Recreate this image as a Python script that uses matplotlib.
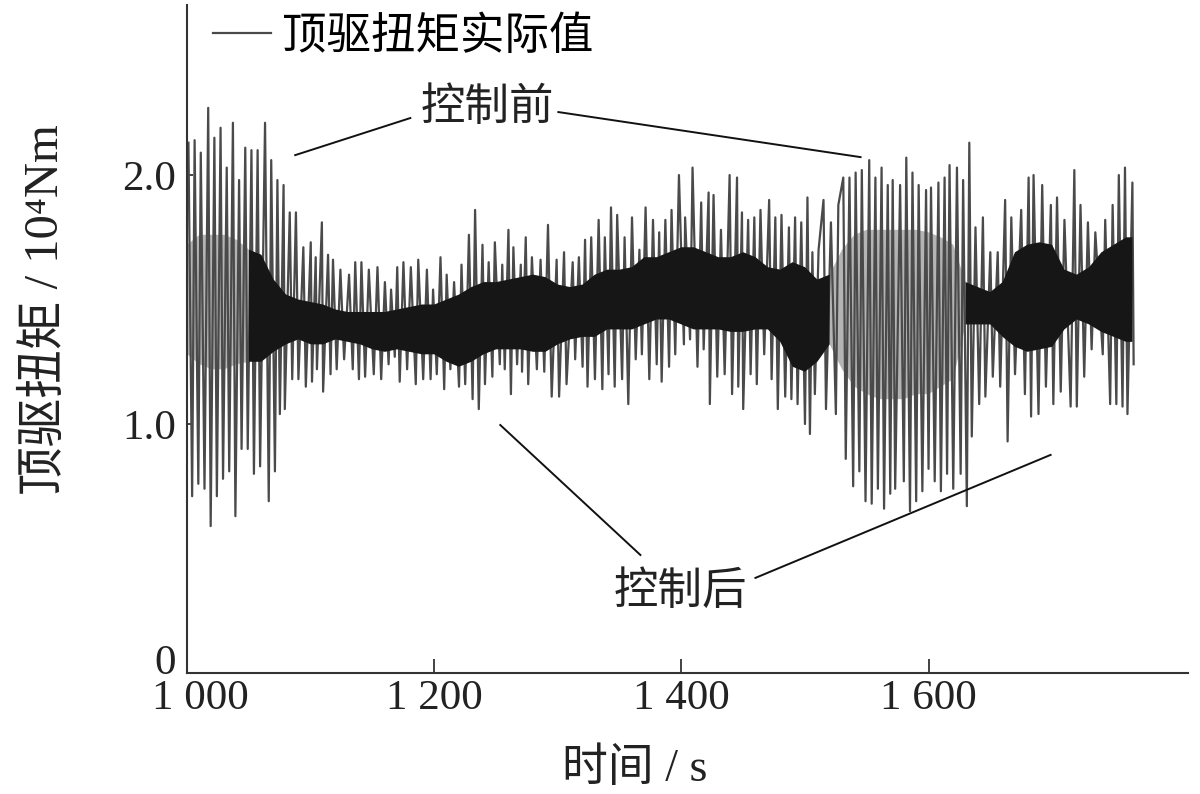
import numpy as np
import matplotlib
matplotlib.use('Agg')
import matplotlib.pyplot as plt
import matplotlib.transforms as mtrans

plt.rcParams['font.family'] = ['Liberation Serif', 'Noto Sans CJK SC', 'DejaVu Serif']

# 尖峰（峰值 / 谷值）
peak_t = [1001, 1006, 1011, 1017, 1022, 1027, 1032, 1037, 1042, 1047,
          1052, 1057, 1063, 1068, 1073, 1078, 1083, 1088, 1094, 1100,
          1104, 1109, 1114, 1118, 1124, 1131, 1136, 1141, 1147, 1154,
          1160, 1165, 1170, 1175, 1181, 1187, 1194, 1199, 1205, 1210,
          1216, 1222, 1228, 1233, 1239, 1244, 1249, 1255, 1260, 1264,
          1270, 1274, 1279, 1286, 1292, 1299, 1305,
          1312, 1317, 1322, 1327, 1333, 1338, 1343, 1348, 1354, 1360,
          1366, 1371, 1377, 1382, 1387, 1392, 1398, 1403, 1409, 1416,
          1422, 1426, 1432, 1439, 1445, 1449, 1454, 1459, 1464,
          1471, 1476, 1481, 1487, 1492, 1497, 1502, 1506, 1511, 1515,
          1521, 1527, 1531, 1536, 1541, 1546, 1552, 1557, 1562, 1567,
          1571, 1577, 1582, 1587, 1592, 1598, 1602, 1608, 1613, 1617,
          1623, 1628, 1633, 1638, 1644, 1650, 1656, 1662, 1667, 1675,
          1681, 1685, 1692, 1699, 1704, 1710, 1718, 1723, 1729, 1735,
          1743, 1749, 1754, 1759, 1765]
peak_v = [2.13, 2.14, 2.09, 2.27, 2.15, 2.19, 2.03, 2.21, 1.98, 2.11,
          2.10, 2.10, 2.21, 2.06, 1.98, 1.96, 1.85, 1.85, 1.71, 1.73,
          1.67, 1.81, 1.68, 1.66, 1.62, 1.60, 1.65, 1.65, 1.62, 1.63,
          1.57, 1.54, 1.63, 1.65, 1.63, 1.66, 1.62, 1.54, 1.67, 1.60,
          1.57, 1.64, 1.76, 1.86, 1.72, 1.65, 1.73, 1.64, 1.78, 1.71,
          1.64, 1.75, 1.67, 1.66, 1.80, 1.66, 1.69,
          1.65, 1.67, 1.74, 1.75, 1.82, 1.75, 1.87, 1.84, 1.75, 1.83,
          1.70, 1.87, 1.82, 1.77, 1.82, 1.86, 2.00, 1.83, 2.03, 1.89,
          1.93, 1.92, 1.78, 2.00, 1.99, 1.85, 1.82, 1.83, 1.86,
          1.90, 1.83, 1.84, 1.79, 1.83, 1.81, 1.91, 1.69, 1.70, 1.90,
          1.81, 1.88, 1.99, 1.99, 2.01, 2.02, 2.06, 1.99, 2.03, 1.96,
          1.98, 1.96, 2.07, 2.01, 1.96, 1.94, 1.95, 1.97, 1.99, 2.04,
          2.03, 1.98, 2.13, 1.79, 1.83, 1.69, 1.69, 1.90, 1.83, 1.86,
          1.99, 2.00, 1.96, 1.88, 1.91, 1.82, 2.02, 1.88, 1.81, 1.77,
          1.82, 1.88, 2.00, 2.03, 1.97]

trough_t = [1004, 1009, 1014, 1019, 1024, 1029, 1034, 1039, 1044, 1049,
            1054, 1059, 1066, 1071, 1075, 1079, 1085, 1090, 1096, 1101,
            1105, 1110, 1116, 1121, 1127, 1134, 1139, 1144, 1151, 1157,
            1163, 1168, 1172, 1178, 1185, 1191, 1197, 1202, 1208, 1213,
            1220, 1225, 1231, 1236, 1241, 1247, 1253, 1257, 1262, 1267,
            1271, 1276, 1283, 1289, 1295, 1301, 1307,
            1314, 1320, 1324, 1330, 1336, 1341, 1346, 1352, 1357, 1363,
            1368, 1374, 1380, 1384, 1390, 1395, 1402, 1407, 1413, 1418,
            1423, 1429, 1435, 1441, 1446, 1450, 1456, 1461,
            1467, 1473, 1478, 1484, 1489, 1494, 1500, 1504, 1508, 1517,
            1525, 1533, 1539, 1544, 1549, 1554, 1559, 1564, 1569, 1573,
            1580, 1585, 1590, 1595, 1600, 1605, 1610, 1615,
            1620, 1626, 1631, 1635, 1641, 1646, 1652, 1658, 1664, 1670,
            1678, 1683, 1689, 1695, 1701, 1707, 1715, 1720, 1726, 1732,
            1741, 1747, 1752, 1757, 1761, 1766]
trough_v = [0.71, 0.76, 0.74, 0.59, 0.71, 0.78, 0.81, 0.63, 0.90, 0.90,
            0.80, 0.83, 0.69, 0.81, 1.04, 1.06, 1.18, 1.18, 1.15, 1.17,
            1.22, 1.13, 1.20, 1.22, 1.26, 1.22, 1.18, 1.19, 1.20, 1.18,
            1.24, 1.27, 1.17, 1.22, 1.16, 1.18, 1.18, 1.20, 1.14, 1.22,
            1.15, 1.16, 1.10, 1.06, 1.16, 1.19, 1.24, 1.22, 1.12, 1.24,
            1.21, 1.16, 1.22, 1.21, 1.11, 1.11, 1.16,
            1.26, 1.23, 1.15, 1.18, 1.14, 1.20, 1.15, 1.18, 1.08, 1.26,
            1.28, 1.18, 1.24, 1.17, 1.23, 1.28, 1.32, 1.34, 1.23, 1.30,
            1.08, 1.19, 1.20, 1.12, 1.15, 1.06, 1.20, 1.16,
            1.28, 1.18, 1.06, 1.11, 1.10, 1.08, 1.00, 0.96, 1.12, 1.06,
            1.04, 0.86, 0.75, 0.81, 0.69, 0.68, 0.74, 0.66, 0.72, 0.74,
            0.77, 0.65, 0.69, 0.73, 0.82, 0.77, 0.73, 0.80,
            0.74, 0.80, 0.67, 0.95, 1.08, 1.11, 1.19, 1.15, 0.93, 1.20,
            1.12, 1.03, 1.04, 1.15, 1.08, 1.13, 1.07, 1.07, 1.19, 1.30,
            1.28, 1.08, 1.08, 1.07, 1.04, 1.24]

# 高频密集部分的包络（黑色带 / 灰色带）
nan = np.nan
band_t = [1000, 1010, 1020, 1030, 1040, 1050, 1060, 1070, 1080, 1090,
          1100, 1110, 1120, 1130, 1140, 1150, 1160, 1170, 1180, 1190,
          1200, 1210, 1220, 1230, 1240, 1250, 1260, 1270, 1280, 1290,
          1300, 1310, 1320, 1330, 1340, 1350, 1360, 1370, 1380, 1390,
          1400, 1410, 1420, 1430, 1440, 1450, 1460, 1470, 1480, 1490,
          1500, 1510, 1520, 1530, 1540, 1550, 1560, 1570, 1580, 1590,
          1600, 1610, 1620, 1630, 1640, 1650, 1660, 1670, 1680, 1690,
          1700, 1710, 1720, 1730, 1740, 1750, 1760, 1765]
dark_hi = [nan, nan, nan, nan, nan, 1.70, 1.68, 1.58, 1.52, 1.50,
           1.49, 1.48, 1.46, 1.45, 1.45, 1.45, 1.45, 1.46, 1.47, 1.48,
           1.48, 1.50, 1.52, 1.55, 1.57, 1.57, 1.58, 1.59, 1.60, 1.59,
           1.56, 1.55, 1.56, 1.60, 1.62, 1.62, 1.63, 1.67, 1.67, 1.69,
           1.71, 1.71, 1.69, 1.67, 1.67, 1.69, 1.67, 1.63, 1.62, 1.65,
           1.63, 1.58, 1.60, nan, nan, nan, nan, nan, nan, nan,
           nan, nan, nan, 1.57, 1.55, 1.53, 1.57, 1.69, 1.72, 1.73,
           1.72, 1.62, 1.60, 1.63, 1.69, 1.72, 1.75, 1.75]
dark_lo = [nan, nan, nan, nan, nan, 1.25, 1.25, 1.29, 1.32, 1.34,
           1.32, 1.32, 1.34, 1.33, 1.32, 1.30, 1.29, 1.30, 1.29, 1.28,
           1.28, 1.25, 1.23, 1.25, 1.28, 1.30, 1.30, 1.30, 1.29, 1.29,
           1.32, 1.34, 1.35, 1.35, 1.38, 1.38, 1.38, 1.40, 1.42, 1.42,
           1.40, 1.38, 1.38, 1.38, 1.37, 1.37, 1.38, 1.38, 1.33, 1.23,
           1.21, 1.25, 1.32, nan, nan, nan, nan, nan, nan, nan,
           nan, nan, nan, 1.40, 1.40, 1.40, 1.35, 1.31, 1.29, 1.30,
           1.31, 1.38, 1.42, 1.40, 1.37, 1.35, 1.33, 1.33]
grey_hi = [1.72, 1.76, 1.76, 1.76, 1.74, 1.70, nan, nan, nan, nan,
           nan, nan, nan, nan, nan, nan, nan, nan, nan, nan,
           nan, nan, nan, nan, nan, nan, nan, nan, nan, nan,
           nan, nan, nan, nan, nan, nan, nan, nan, nan, nan,
           nan, nan, nan, nan, nan, nan, nan, nan, nan, nan,
           nan, nan, 1.60, 1.70, 1.76, 1.78, 1.78, 1.78, 1.78, 1.78,
           1.77, 1.75, 1.72, 1.57, nan, nan, nan, nan, nan, nan,
           nan, nan, nan, nan, nan, nan, nan, nan]
grey_lo = [1.28, 1.24, 1.22, 1.22, 1.24, 1.25, nan, nan, nan, nan,
           nan, nan, nan, nan, nan, nan, nan, nan, nan, nan,
           nan, nan, nan, nan, nan, nan, nan, nan, nan, nan,
           nan, nan, nan, nan, nan, nan, nan, nan, nan, nan,
           nan, nan, nan, nan, nan, nan, nan, nan, nan, nan,
           nan, nan, 1.32, 1.22, 1.15, 1.12, 1.10, 1.10, 1.10, 1.12,
           1.12, 1.15, 1.18, 1.40, nan, nan, nan, nan, nan, nan,
           nan, nan, nan, nan, nan, nan, nan, nan]

x_ticks = [1000, 1200, 1400, 1600]
x_tick_labels = ['1 000', '1 200', '1 400', '1 600']
y_ticks = [0, 1.0, 2.0]
y_tick_labels = ['0', '1.0', '2.0']

# 峰谷按时间合并成折线
t_all = np.array(peak_t + trough_t, dtype=float)
v_all = np.array(peak_v + trough_v, dtype=float)
order = np.argsort(t_all, kind='stable')
t_line = t_all[order]
v_line = v_all[order]

fig = plt.figure(figsize=(12, 7.94), dpi=100)
ax = fig.add_axes([0.156, 0.1524, 0.834, 0.8413])

ax.fill_between(band_t, grey_lo, grey_hi, color='#b4b4b4', lw=0, zorder=1)
line, = ax.plot(t_line, v_line, color='#4a4a4a', lw=1.6, zorder=2)
ax.fill_between(band_t, dark_lo, dark_hi, color='#161616', lw=0, zorder=3)

ax.set_xlim(1000, 1810)
ax.set_ylim(0, 2.683)
ax.set_xticks(x_ticks)
ax.set_xticklabels(x_tick_labels)
ax.set_yticks(y_ticks)
ax.set_yticklabels(y_tick_labels)
ax.tick_params(axis='x', direction='in', length=10, width=1.2, pad=5,
               labelsize=31, colors='#222222')
ax.tick_params(axis='y', direction='in', length=4, width=1.2, pad=8,
               labelsize=31, colors='#222222')
for s in ['top', 'right']:
    ax.spines[s].set_visible(False)
for s in ['left', 'bottom']:
    ax.spines[s].set_linewidth(1.5)
    ax.spines[s].set_color('#333333')

# "0" 上移、"1 000" 右移，避免重叠
lbl_y0 = ax.get_yticklabels()[0]
lbl_y0.set_transform(lbl_y0.get_transform()
                     + mtrans.ScaledTranslation(0, 0.14, fig.dpi_scale_trans))
lbl_x0 = ax.get_xticklabels()[0]
lbl_x0.set_transform(lbl_x0.get_transform()
                     + mtrans.ScaledTranslation(0.13, 0, fig.dpi_scale_trans))

fig.text(45 / 1200, 1 - 310 / 794, '顶驱扭矩 / 10⁴Nm', rotation=90,
         ha='center', va='center', fontsize=35, color='#222222')
fig.text(635 / 1200, 1 - 770 / 794, '时间 / s', ha='center', va='center',
         fontsize=33, color='#222222')

ax.legend([line], ['顶驱扭矩实际值'], loc='upper left',
          bbox_to_anchor=(213 / 1200, 1 - 16 / 794),
          bbox_transform=fig.transFigure, frameon=False, fontsize=32,
          handlelength=1.3, handletextpad=0.25, borderpad=0,
          borderaxespad=0)

# 标注
ax.text(1243, 2.27, '控制前', ha='center', va='center', fontsize=32,
        color='#222222')
ax.plot([1180.6, 1087.4], [2.229, 2.080], color='#111111', lw=1.4)
ax.plot([1300.4, 1545.0], [2.253, 2.072], color='#111111', lw=1.4)

ax.text(1399, 0.325, '控制后', ha='center', va='center', fontsize=32,
        color='#222222')
ax.plot([1366.8, 1253.4], [0.474, 0.996], color='#111111', lw=1.4)
ax.plot([1459.9, 1698.8], [0.382, 0.876], color='#111111', lw=1.4)

fig.savefig('out.png', dpi=100)
